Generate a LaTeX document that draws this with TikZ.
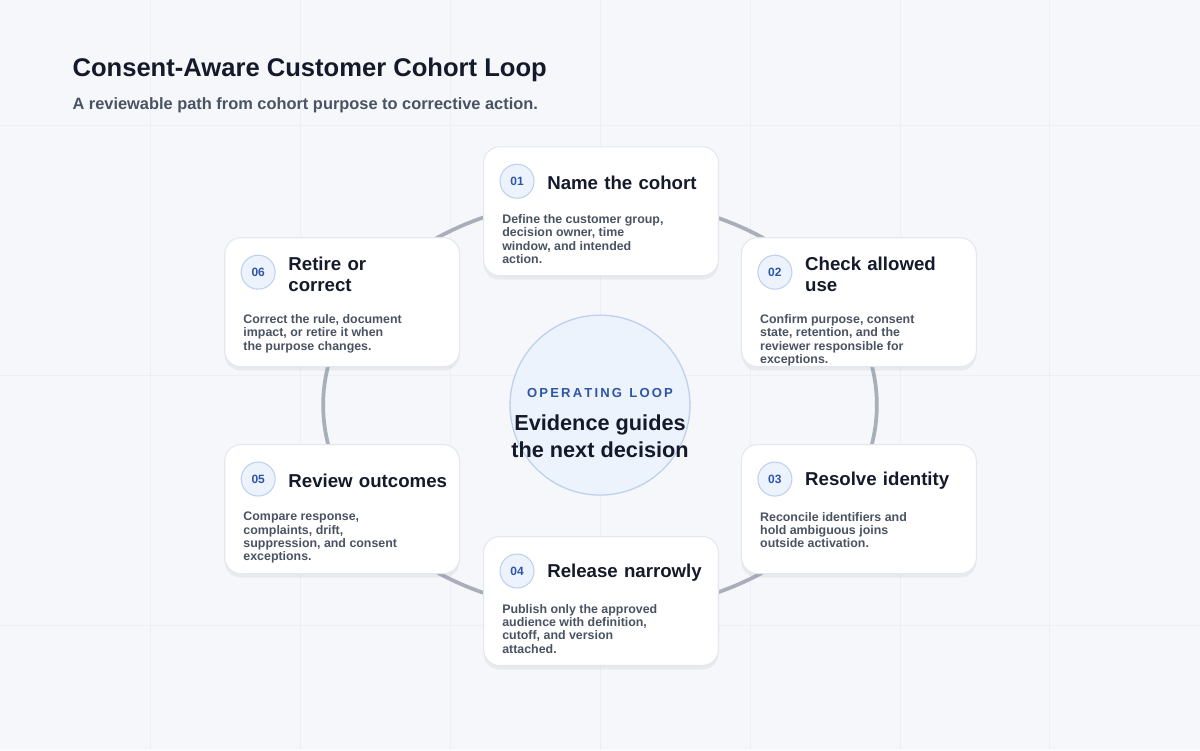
\documentclass[tikz,border=0pt]{standalone}
\usepackage{fontspec}
\setmainfont{Liberation Sans}
\usepackage{xcolor}
\usetikzlibrary{shadows,positioning}
\definecolor{bgc}{HTML}{F5F7FB}
\definecolor{gridc}{HTML}{ECEFF4}
\definecolor{edgec}{HTML}{E3E7EE}
\definecolor{ringc}{HTML}{A8AEBA}
\definecolor{inkc}{HTML}{141A2A}
\definecolor{subc}{HTML}{4A5362}
\definecolor{badgec}{HTML}{EDF3FC}
\definecolor{badgeb}{HTML}{BED1EE}
\definecolor{bluec}{HTML}{2E55A8}
\begin{document}
\begin{tikzpicture}[x=0.75pt,y=-0.75pt,
    card/.style={draw=edgec,fill=white,rounded corners=12pt,line width=0.8pt,
      minimum width=176.25pt,minimum height=96.75pt,
      drop shadow={opacity=0.10,shadow xshift=0pt,shadow yshift=-3pt}},
    badge/.style={circle,draw=badgeb,fill=badgec,line width=0.8pt,minimum size=25.5pt,
      inner sep=0pt,font=\bfseries\fontsize{9}{10}\selectfont,text=bluec},
    title/.style={anchor=west,align=left,text width=125pt,inner sep=0pt,
      font=\bfseries\fontsize{14}{16}\selectfont,text=inkc},
    desc/.style={anchor=north west,align=left,inner sep=0pt,
      font=\bfseries\fontsize{9.3}{10}\selectfont,text=subc}
  ]
  % background
  \fill[bgc] (0,0) rectangle (1200,750);
  \foreach \gx in {150,300,...,1050}
    \draw[gridc,line width=0.5pt] (\gx,0) -- (\gx,750);
  \foreach \gy in {125,375,625}
    \draw[gridc,line width=0.5pt] (0,\gy) -- (1200,\gy);
  \useasboundingbox (0,0) rectangle (1200,750);

  % heading
  \node[anchor=west,inner sep=0pt,font=\bfseries\fontsize{19.2}{21}\selectfont,text=inkc]
    (head) at (72,70) {Consent-Aware Customer Cohort Loop};
  \node[anchor=west,inner sep=0pt,font=\bfseries\fontsize{12.3}{14}\selectfont,text=subc]
    (sub) at (72,105) {A reviewable path from cohort purpose to corrective action.};

  % ring
  \draw[ringc,line width=2.8pt] (600,405) ellipse[x radius=277,y radius=207];

  % centre
  \node[circle,draw=badgeb,fill=badgec,line width=1pt,minimum size=135pt] (hub) at (600,405) {};
  \node[font=\bfseries\fontsize{9.8}{11}\selectfont,text=bluec] (hubtag) at (600,393)
    {O\,P\,E\,R\,A\,T\,I\,N\,G\ \ L\,O\,O\,P};
  \node[align=center,font=\bfseries\fontsize{16.3}{20}\selectfont,text=inkc] (hubtxt) at (600,436)
    {Evidence guides\\the next decision};

  % cards: name / left / top / number / title / text offset / text
  \foreach \n/\lx/\ty/\num/\ttl/\dy/\txt in {
      c1/483/146/01/{Name the cohort}/68/{Define the customer group,\\decision owner, time\\window, and intended\\action.},
      c2/741/237/02/{Check allowed\\use}/77/{Confirm purpose, consent\\state, retention, and the\\reviewer responsible for\\exceptions.},
      c3/741/444/03/{Resolve identity}/68/{Reconcile identifiers and\\hold ambiguous joins\\outside activation.},
      c4/483/536/04/{Release narrowly}/68/{Publish only the approved\\audience with definition,\\cutoff, and version\\attached.},
      c5/224/444/05/{Review outcomes}/68/{Compare response,\\complaints, drift,\\suppression, and consent\\exceptions.},
      c6/224/237/06/{Retire or\\correct}/77/{Correct the rule, document\\impact, or retire it when\\the purpose changes.}} {
    \node[card,anchor=north west] (\n) at (\lx,\ty) {};
    \node[badge] (\n-num) at (\lx+34,\ty+35) {\num};
    \node[title] (\n-title) at (\lx+64,\ty+37) {\ttl};
    \node[desc] (\n-text) at (\lx+19,\ty+\dy) {\txt};
  }
\end{tikzpicture}
\end{document}
